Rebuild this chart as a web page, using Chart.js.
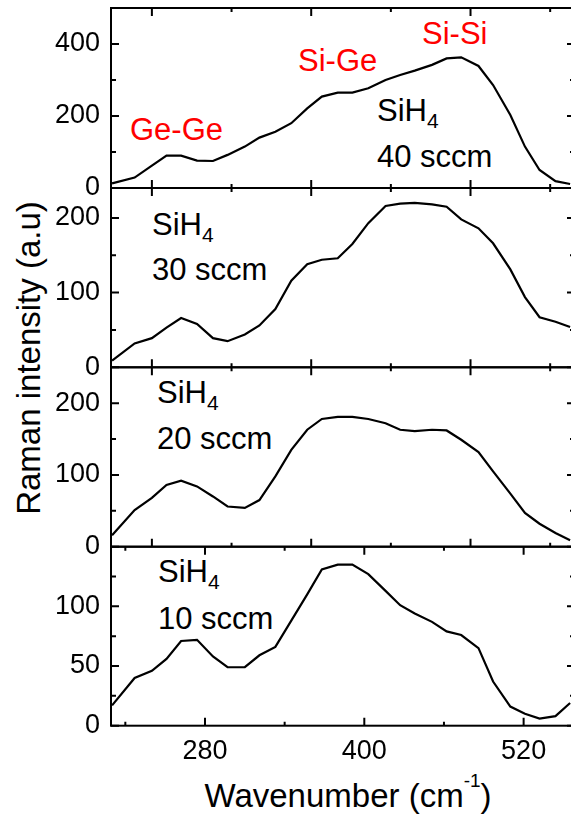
<!DOCTYPE html>
<html>
<head>
<meta charset="utf-8">
<script src="https://cdn.jsdelivr.net/npm/chart.js@4.4.0/dist/chart.umd.min.js"></script>
<style>
  body { margin: 0; background: #fff; overflow: hidden; }
  #wrap { position: relative; width: 571px; height: 821px; overflow: hidden; font-family: "Liberation Sans", Arial, sans-serif; }
  #wrap canvas { position: absolute; left: 0; top: 0; }
  .lbl { position: absolute; white-space: nowrap; line-height: 1; font-size: 31px; color: #000; }
  .red { color: #ff0000; }
  .sub { font-size: 21px; position: relative; top: 7px; }
  .sup { font-size: 19px; position: relative; top: -20px; }
  #ytitle { font-size: 33px; left: 28px; top: 358px; transform: translate(-50%, -50%) rotate(-90deg); }
  #xtitle { font-size: 33px; left: 348px; top: 779px; transform: translateX(-50%); }
</style>
</head>
<body>
<div id="wrap">
  <div class="lbl red" style="left:130px; top:114px;">Ge-Ge</div>
  <div class="lbl red" style="left:298px; top:45px;">Si-Ge</div>
  <div class="lbl red" style="left:422px; top:18px;">Si-Si</div>

  <div class="lbl" style="left:377px; top:95px;">SiH<span class="sub">4</span></div>
  <div class="lbl" style="left:377px; top:141px;">40 sccm</div>
  <div class="lbl" style="left:152px; top:209px;">SiH<span class="sub">4</span></div>
  <div class="lbl" style="left:152px; top:254px;">30 sccm</div>
  <div class="lbl" style="left:157px; top:377px;">SiH<span class="sub">4</span></div>
  <div class="lbl" style="left:157px; top:423px;">20 sccm</div>
  <div class="lbl" style="left:158px; top:556px;">SiH<span class="sub">4</span></div>
  <div class="lbl" style="left:158px; top:603px;">10 sccm</div>

  <div class="lbl" id="ytitle">Raman intensity (a.u)</div>
  <div class="lbl" id="xtitle">Wavenumber (cm<span class="sup">-1</span>)</div>
</div>
<script>
'use strict';
//****************************
//DATA
//****************************
var wavenumber = [210, 227, 240, 251, 262, 274, 286, 297, 310, 321, 333, 345, 357, 368, 380, 391, 403, 416, 427, 438, 451, 462, 473, 486, 497, 510, 521, 532, 544, 555];
var sccm40 = [13, 29, 62, 90, 90, 76, 75, 92, 115, 140, 156, 180, 221, 254, 265, 265, 277, 300, 314, 326, 342, 360, 363, 339, 286, 203, 115, 50, 19, 11];
var sccm30 = [9, 32, 39, 53, 66, 58, 39, 35, 44, 56, 78, 116, 138, 144, 146, 165, 193, 216, 219, 220, 218, 215, 198, 186, 166, 131, 94, 67, 61, 54];
var sccm20 = [16, 51, 68, 86, 92, 84, 70, 56, 54, 65, 98, 135, 163, 178, 181, 181, 178, 172, 163, 161, 163, 162, 149, 132, 105, 74, 47, 32, 19, 9];
var sccm10 = [17, 40, 46, 56, 71, 72, 58, 49, 49, 59, 66, 88, 110, 131, 135, 135, 127, 113, 101, 94, 87, 79, 76, 65, 37, 16, 10, 6, 8, 19];

// tick values
var xLabels = [280, 400, 520];
var xMinorBottom = [220, 340, 460];
var xMajorTop = [240, 360, 480];
var xMinorTop = [300, 420, 540];
var yTicks40 = [0, 200, 400];
var yTicks30 = [0, 100, 200];
var yTicks20 = [0, 100, 200];
var yTicks10 = [0, 50, 100];

var X_MIN = 209.2;
var X_MAX = 558.7;
var X_AXIS_H = 50;
var wrap = document.getElementById('wrap');

Chart.defaults.font.family = '"Liberation Sans", Arial, sans-serif';
Chart.defaults.color = '#000';

// frame + inward ticks, drawn through the chart scales
var framePlugin = {
  id: 'frame',
  afterDatasetsDraw: function(chart, args, opts) {
    var ctx = chart.ctx;
    var a = chart.chartArea;
    var xs = chart.scales.x;
    var ys = chart.scales.y;
    ctx.save();
    ctx.strokeStyle = '#000';
    ctx.lineWidth = 2;
    ctx.strokeRect(a.left, a.top, a.right - a.left, a.bottom - a.top);
    function xTick(v, len) {
      var px = xs.getPixelForValue(v);
      ctx.beginPath();
      ctx.moveTo(px, a.bottom); ctx.lineTo(px, a.bottom - len);
      ctx.moveTo(px, a.top); ctx.lineTo(px, a.top + len);
      ctx.stroke();
    }
    function yTick(v, len) {
      var py = ys.getPixelForValue(v);
      ctx.beginPath();
      ctx.moveTo(a.left, py); ctx.lineTo(a.left + len, py);
      ctx.moveTo(a.right, py); ctx.lineTo(a.right - len, py);
      ctx.stroke();
    }
    opts.xMajor.forEach(function(v) { xTick(v, 8); });
    opts.xMinor.forEach(function(v) { xTick(v, 4); });
    opts.yMajor.forEach(function(v) { yTick(v, 8); });
    opts.yMinor.forEach(function(v) { yTick(v, 5); });
    ctx.restore();
  }
};

function makePanel(series, yMax, yMajor, yMinor, top, bottom, showX) {
  var canvas = document.createElement('canvas');
  canvas.width = 580;
  canvas.height = 821;
  wrap.appendChild(canvas);
  var points = [];
  for (var i = 0; i < wavenumber.length; i++) {
    points.push({ x: wavenumber[i], y: series[i] });
  }
  var bottomPad = showX ? 821 - bottom - X_AXIS_H : 821 - bottom;
  return new Chart(canvas, {
    type: 'line',
    data: {
      datasets: [{
        data: points,
        borderColor: '#000',
        borderWidth: 2.2,
        pointRadius: 0,
        tension: 0,
        fill: false
      }]
    },
    options: {
      responsive: false,
      animation: false,
      devicePixelRatio: 1,
      layout: { padding: { left: 0, right: 5, top: top, bottom: bottomPad } },
      plugins: {
        legend: { display: false },
        tooltip: { enabled: false },
        frame: {
          xMajor: showX ? xLabels : xMajorTop,
          xMinor: showX ? xMinorBottom : xMinorTop,
          yMajor: yMajor,
          yMinor: yMinor
        }
      },
      scales: {
        x: {
          type: 'linear',
          min: X_MIN,
          max: X_MAX,
          grid: { display: false, drawTicks: false },
          border: { display: false },
          ticks: { display: showX, padding: 10, font: { size: 27 }, color: '#000' },
          afterBuildTicks: function(s) {
            s.ticks = (showX ? xLabels : []).map(function(v) { return { value: v }; });
          },
          afterFit: function(s) {
            s.height = showX ? X_AXIS_H : 0;
            s.paddingLeft = 0;
            s.paddingRight = 0;
          }
        },
        y: {
          min: 0,
          max: yMax,
          grid: { display: false, drawTicks: false },
          border: { display: false },
          ticks: { padding: 11, font: { size: 27 }, color: '#000' },
          afterBuildTicks: function(s) {
            s.ticks = yMajor.map(function(v) { return { value: v }; });
          },
          afterFit: function(s) {
            s.width = 111;
            s.paddingTop = 0;
            s.paddingBottom = 0;
          }
        }
      }
    },
    plugins: [framePlugin]
  });
}

makePanel(sccm40, 500, yTicks40, [100, 300], 8, 188, false);
makePanel(sccm30, 240, yTicks30, [50, 150], 188, 367.3, false);
makePanel(sccm20, 250, yTicks20, [50, 150], 367.3, 546.7, false);
makePanel(sccm10, 150, yTicks10, [25, 75, 125], 546.7, 725.7, true);
</script>
</body>
</html>
